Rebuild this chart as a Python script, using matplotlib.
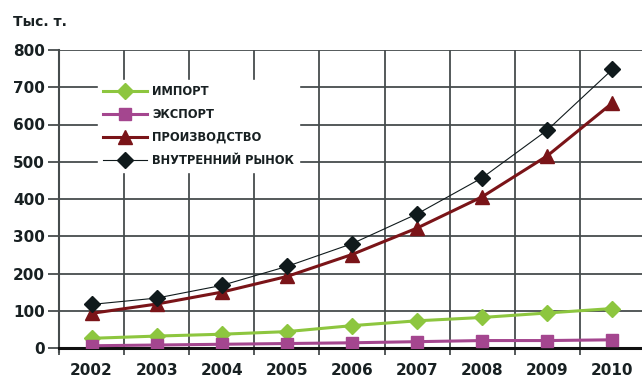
import numpy as np
import matplotlib
matplotlib.use("Agg")
from matplotlib import pyplot as plt

years = ["2002", "2003", "2004", "2005", "2006", "2007", "2008", "2009", "2010"]
imports = [26, 32, 37, 44, 60, 73, 82, 94, 106]
exports = [6, 8, 10, 12, 14, 17, 20, 20, 22]
production = [93, 118, 150, 192, 251, 322, 406, 516, 658]
domestic = [117, 134, 168, 219, 280, 360, 457, 585, 748]

y_ticks = [0, 100, 200, 300, 400, 500, 600, 700, 800]

plt.rcParams["font.family"] = ["DejaVu Sans"]
plt.rcParams["font.weight"] = "bold"

fig = plt.figure(figsize=(6.42, 3.80), dpi=100)
ax = fig.add_axes([59 / 642, 1 - 348 / 380, 586 / 642, 298 / 380])

x = np.arange(len(years))
grid_color = "#464c4d"
text_color = "#182022"

ax.plot(x, imports, color="#8dc63f", lw=2.2, marker="D", ms=8.5, label="ИМПОРТ", zorder=3)
ax.plot(x, exports, color="#a4468f", lw=2.2, marker="s", ms=8, label="ЭКСПОРТ", zorder=3)
ax.plot(x, production, color="#7a1418", lw=2.2, marker="^", ms=9.5, label="ПРОИЗВОДСТВО", zorder=3)
ax.plot(x, domestic, color="#101a1c", lw=0.8, marker="D", ms=8.5, label="ВНУТРЕННИЙ РЫНОК", zorder=3)

ax.set_xlim(-0.5, len(years) - 0.5)
ax.set_ylim(0, 800)

# gridlines sit between the years, labels in the middle of each cell
ax.set_xticks(np.arange(len(years) + 1) - 0.5)
ax.set_xticklabels([])
ax.set_xticks(x, minor=True)
ax.set_xticklabels(years, minor=True, fontsize=11, fontweight="bold", color=text_color)
ax.tick_params(axis="x", which="minor", length=0, pad=10.5)
ax.tick_params(axis="x", which="major", length=5, width=1.3, color=grid_color, direction="out")

ax.set_yticks(y_ticks)
ax.set_yticklabels([str(v) for v in y_ticks], fontsize=11, fontweight="bold", color=text_color)
ax.tick_params(axis="y", length=8, width=1.3, color=grid_color, pad=2)

ax.grid(True, which="major", color=grid_color, lw=1.3)
ax.set_axisbelow(True)

for side in ["top", "right"]:
    ax.spines[side].set_visible(False)
ax.spines["left"].set_color(grid_color)
ax.spines["left"].set_linewidth(1.5)
ax.spines["left"].set_bounds(-12, 800)
ax.spines["bottom"].set_color("#111111")
ax.spines["bottom"].set_linewidth(2.2)

leg = ax.legend(loc="upper left", bbox_to_anchor=(39 / 586, (348 - 80) / 298), frameon=True,
                fancybox=False, edgecolor="white", facecolor="white", framealpha=1,
                prop={"size": 8.3, "weight": "bold"}, handlelength=3.8, labelspacing=0.85,
                borderpad=0.45, borderaxespad=0, handletextpad=0.45)
leg.set_zorder(5)
for t in leg.get_texts():
    t.set_color(text_color)

fig.text(13 / 642, 1 - 22 / 380, "Тыс. т.", fontsize=10, fontweight="bold",
         color=text_color, va="center", ha="left")

fig.savefig("out.png", dpi=100)
